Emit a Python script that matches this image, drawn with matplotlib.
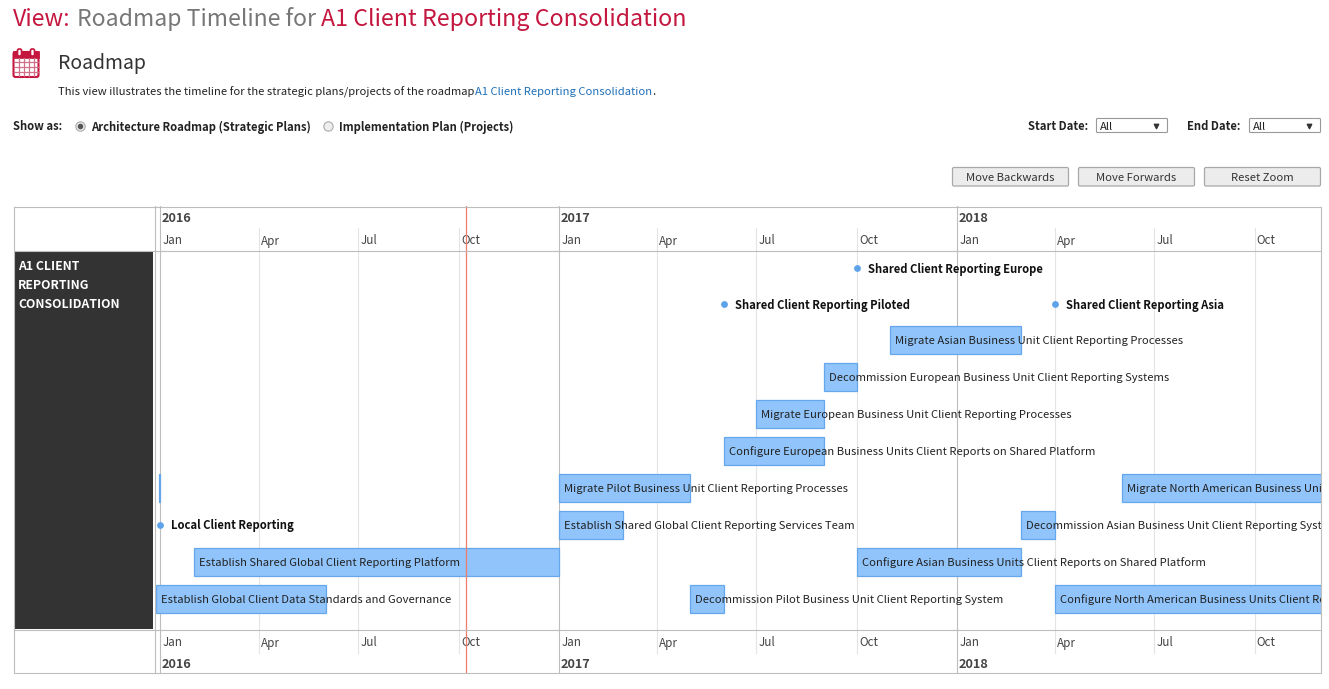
import matplotlib
matplotlib.use('Agg')
import matplotlib.pyplot as plt
import matplotlib.dates as mdates
from matplotlib.patches import Rectangle, FancyBboxPatch
from datetime import date

plt.rcParams['font.family'] = ['Noto Sans CJK SC', 'DejaVu Sans']

W, H = 1329, 689

years = [2016, 2017, 2018]
quarter_months = [1, 4, 7, 10]
quarter_names = ['Jan', 'Apr', 'Jul', 'Oct']
today = '2016-10-08'

bar_names = ['Migrate Asian Business Unit Client Reporting Processes',
             'Decommission European Business Unit Client Reporting Systems',
             'Migrate European Business Unit Client Reporting Processes',
             'Configure European Business Units Client Reports on Shared Platform',
             '',
             'Migrate Pilot Business Unit Client Reporting Processes',
             'Migrate North American Business Unit Client Reporting Processes',
             'Establish Shared Global Client Reporting Services Team',
             'Decommission Asian Business Unit Client Reporting Systems',
             'Establish Shared Global Client Reporting Platform',
             'Configure Asian Business Units Client Reports on Shared Platform',
             'Establish Global Client Data Standards and Governance',
             'Decommission Pilot Business Unit Client Reporting System',
             'Configure North American Business Units Client Reports on Shared Platform']
bar_starts = ['2017-11-01', '2017-09-01', '2017-07-01', '2017-06-01', '2015-12-31',
              '2017-01-01', '2018-06-01', '2017-01-01', '2018-03-01', '2016-02-01',
              '2017-10-01', '2015-12-28', '2017-05-01', '2018-04-01']
bar_ends = ['2018-03-01', '2017-10-01', '2017-09-01', '2017-09-01', '2016-01-01',
            '2017-05-01', '2019-03-01', '2017-03-01', '2018-04-01', '2017-01-01',
            '2018-03-01', '2016-06-01', '2017-06-01', '2019-03-01']
bar_rows = [2, 3, 4, 5, 6, 6, 6, 7, 7, 8, 8, 9, 9, 9]

milestone_names = ['Shared Client Reporting Europe', 'Shared Client Reporting Piloted',
                   'Shared Client Reporting Asia', 'Local Client Reporting']
milestone_dates = ['2017-10-01', '2017-06-01', '2018-04-01', '2016-01-01']
milestone_rows = [0, 1, 1, 7]

row_centres = [268, 303.5, 339.5, 376.5, 413.5, 450.5, 487.5, 524.5, 561.5, 598.5]

RED = '#c4163f'
GREY = '#bdbdbd'
TXT = '#222222'
FS = 8.1


def dnum(s):
    return mdates.date2num(date.fromisoformat(s))


fig = plt.figure(figsize=(W / 100, H / 100), dpi=100)

# page furniture, in pixel coordinates
ui = fig.add_axes([0, 0, 1, 1])
ui.set_xlim(0, W)
ui.set_ylim(H, 0)
ui.axis('off')

ui.text(13, 26, 'View:', color=RED, fontsize=16.7, fontweight='medium')
ui.text(77, 26, 'Roadmap Timeline for', color='#777777', fontsize=16.55, fontweight='medium')
ui.text(321, 26, 'A1 Client Reporting Consolidation', color=RED, fontsize=16.7, fontweight='medium')

# calendar icon
ui.add_patch(FancyBboxPatch((13.5, 52), 25, 25, boxstyle='round,pad=0,rounding_size=2', fc='white', ec=RED, lw=1.5))
ui.add_patch(Rectangle((13, 51), 26, 6.5, fc=RED, ec=RED, lw=0.5))
for x in [19.5, 32.5]:
    ui.add_patch(FancyBboxPatch((x - 2, 49), 4, 7, boxstyle='round,pad=0,rounding_size=1.5', fc='white', ec=RED, lw=1.2))
for x in [18.5, 23.5, 28.5, 33.5]:
    ui.plot([x, x], [58, 76], color='#d0708a', lw=0.9)
for y in [62, 67, 72]:
    ui.plot([14, 38], [y, y], color='#d0708a', lw=0.9)

ui.text(58, 68.5, 'Roadmap', color='#333333', fontsize=14)
ui.text(58, 95, 'This view illustrates the timeline for the strategic plans/projects of the roadmap',
        color=TXT, fontsize=8.05)
ui.text(475, 95, 'A1 Client Reporting Consolidation', color='#1f6fb8', fontsize=8.05)
ui.text(652.5, 95, '.', color=TXT, fontsize=FS)

ui.text(13, 130.5, 'Show as:', color=TXT, fontsize=FS, fontweight='bold')
ui.scatter([80, 328], [125.5, 125.5], s=45, c='#eeeeee', edgecolors='#aaaaaa', linewidths=0.8)
ui.scatter([80], [125.5], s=9, c='#555555')
ui.text(91, 130.5, 'Architecture Roadmap (Strategic Plans)', color=TXT, fontsize=FS, fontweight='bold')
ui.text(339, 130.5, 'Implementation Plan (Projects)', color=TXT, fontsize=FS, fontweight='bold')

ui.text(1028, 130, 'Start Date:', color=TXT, fontsize=FS, fontweight='bold')
ui.text(1187, 130, 'End Date:', color=TXT, fontsize=FS, fontweight='bold')
for x, w in [(1096.5, 71), (1249.5, 71)]:
    ui.add_patch(FancyBboxPatch((x, 118.5), w, 14, boxstyle='round,pad=0,rounding_size=1', fc='white', ec='#999999', lw=0.8))
    ui.text(x + 3, 130, 'All', color=TXT, fontsize=FS)
    ui.scatter([x + 59], [126], s=10, marker='v', c='#333333')

for x, w, label in [(952.5, 116, 'Move Backwards'), (1078.5, 116, 'Move Forwards'), (1204.5, 116, 'Reset Zoom')]:
    ui.add_patch(FancyBboxPatch((x, 167.5), w, 18.5, boxstyle='round,pad=0,rounding_size=1.5', fc='#ececec', ec='#a8a8a8', lw=0.9))
    ui.text(x + w / 2, 181, label, color='#333333', fontsize=FS, ha='center')

# left column and frame
ui.add_patch(Rectangle((14, 251), 139, 378, fc='#333333', ec='none'))
ui.text(18, 270, 'A1 CLIENT', color='white', fontsize=8.8, fontweight='bold')
ui.text(18, 289, 'REPORTING', color='white', fontsize=8.8, fontweight='bold')
ui.text(18, 308, 'CONSOLIDATION', color='white', fontsize=8.8, fontweight='bold')

# timeline, x in real dates, y still in pixels
left, right, top, bottom = 155, 1320.5, 206, 673
ax = fig.add_axes([left / W, 1 - bottom / H, (right - left) / W, (bottom - top) / H])
ax.patch.set_alpha(0)
px_per_day = (957 - 160) / (dnum('2018-01-01') - dnum('2016-01-01'))
x0 = dnum('2016-01-01') - (160 - left) / px_per_day
ax.set_xlim(x0, x0 + (right - left) / px_per_day)
ax.set_ylim(bottom, top)
ax.set_xticks([])
ax.set_yticks([])
for s in ax.spines.values():
    s.set_visible(False)

for year in years:
    for month, name in zip(quarter_months, quarter_names):
        x = dnum(f'{year}-{month:02d}-01')
        if month == 1:
            ax.plot([x, x], [top, bottom], color=GREY, lw=0.8, zorder=1)
        else:
            ax.plot([x, x], [228, 653], color='#e4e4e4', lw=0.8, zorder=1)
        ax.annotate(name, (x, 244.5), xytext=(1.6, 0), textcoords='offset points', color='#444444',
                    fontsize=8.4, clip_on=True)
        ax.annotate(name, (x, 646.5), xytext=(1.6, 0), textcoords='offset points', color='#444444',
                    fontsize=8.4, clip_on=True)
    x = dnum(f'{year}-01-01')
    ax.annotate(str(year), (x, 222), xytext=(1.2, 0), textcoords='offset points', color='#444444',
                fontsize=9.2, fontweight='bold')
    ax.annotate(str(year), (x, 668), xytext=(1.2, 0), textcoords='offset points', color='#444444',
                fontsize=9.2, fontweight='bold')

for name, start, end, row in zip(bar_names, bar_starts, bar_ends, bar_rows):
    y = row_centres[row]
    ax.barh(y, dnum(end) - dnum(start), left=dnum(start), height=28, color='#90c4fb',
            edgecolor='#66a7ec', linewidth=0.9, zorder=2)
for name, start, row in zip(bar_names, bar_starts, bar_rows):
    if name:
        ax.annotate(name, (dnum(start), row_centres[row] + 4.5), xytext=(3.6, 0), textcoords='offset points',
                    color=TXT, fontsize=FS, clip_on=True, zorder=4)

for name, d, row in zip(milestone_names, milestone_dates, milestone_rows):
    y = row_centres[row]
    ax.scatter([dnum(d)], [y], s=15, c='#5da3ea', zorder=3, clip_on=False)
    ax.annotate(name, (dnum(d), y + 5), xytext=(8, 0), textcoords='offset points', color='#111111',
                fontsize=FS, fontweight='bold', zorder=4)

ax.plot([dnum(today)] * 2, [top, bottom], color='#f27c6c', lw=0.9, zorder=5)

# frame lines on top of the timeline
ui.set_zorder(0)
ax.set_zorder(1)
frame = fig.add_axes([0, 0, 1, 1], zorder=2)
frame.set_xlim(0, W)
frame.set_ylim(H, 0)
frame.axis('off')
frame.patch.set_alpha(0)
frame.plot([13.5, 1320.5, 1320.5, 13.5, 13.5], [206.5, 206.5, 673, 673, 206.5], color=GREY, lw=0.8)
frame.plot([13.5, 1320.5], [250.5, 250.5], color=GREY, lw=0.8)
frame.plot([13.5, 1320.5], [629.5, 629.5], color=GREY, lw=0.8)
frame.plot([154.5, 154.5], [206, 673], color=GREY, lw=0.8)

fig.savefig('out.png', dpi=100)
